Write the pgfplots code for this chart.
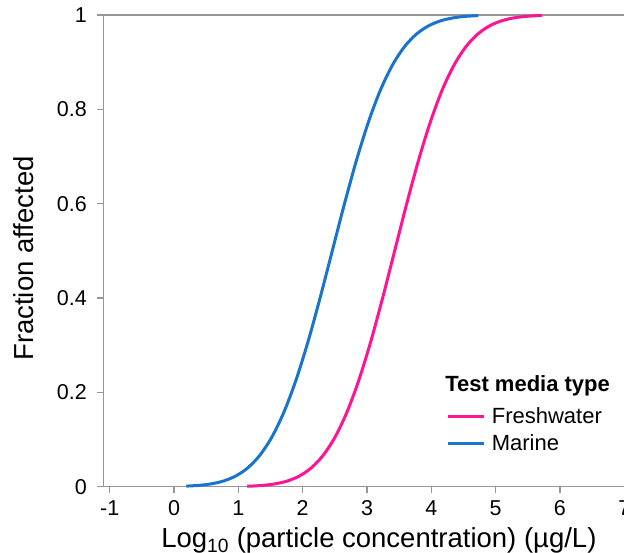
\documentclass[border=0pt]{standalone}
\usepackage{fontspec}
\setmainfont{Liberation Sans}
\usepackage{pgfplots}
\pgfplotsset{compat=1.18}
\definecolor{fresh}{RGB}{255,20,147}
\definecolor{marine}{RGB}{24,116,205}
\definecolor{axgray}{RGB}{150,150,150}
\begin{document}
\begin{tikzpicture}
\begin{axis}[
  scale only axis, width=521pt, height=471.7pt,
  xmin=-1.1, xmax=7, ymin=0, ymax=1,
  axis lines*=left,
  axis line style={axgray, line width=1.5pt},
  tick align=outside, major tick length=6pt,
  tick style={axgray, line width=1.5pt},
  xtick={-1,0,1,2,3,4,5,6,7},
  xticklabels={-1,0,1,2,3,4,5,6,7},
  ytick={0,0.2,0.4,0.6,0.8,1},
  yticklabels={0,0.2,0.4,0.6,0.8,1},
  extra y ticks={1}, extra y tick labels={},
  extra y tick style={grid=major, major grid style={axgray, line width=2pt}},
  ticklabel style={font=\fontsize{21.5}{25}\selectfont},
  yticklabel style={xshift=-7pt},
  xticklabel style={yshift=-4pt},
  clip=false,
  xlabel={Log\textsubscript{10} (particle concentration) (µg/L)},
  ylabel={Fraction affected},
  label style={font=\fontsize{27.5}{31}\selectfont},
  xlabel style={at={(axis description cs:0.529,0)}, anchor=base, yshift=-61.3pt, inner sep=0pt},
  ylabel style={at={(axis description cs:-0.1349,0.4838)}, anchor=base, inner sep=0pt},
  legend style={draw=none, fill=none, at={(axis description cs:0.659,0.1717)}, anchor=north west,
     font=\fontsize{22}{26}\selectfont, inner sep=0pt, row sep=5pt, nodes={inner sep=2pt},
     /tikz/every odd column/.append style={column sep=4pt}},
  legend cell align=left,
  legend image code/.code={\draw[#1, line width=3pt] (0pt,0pt) -- (36pt,0pt);},
]
\addplot[fresh, line width=3pt, smooth] coordinates {
(1.136,0.00097) (1.21,0.00135) (1.395,0.00298) (1.58,0.00621) (1.765,0.01222) (1.95,0.02275)
(2.135,0.04006) (2.32,0.06681) (2.505,0.10565) (2.69,0.15866) (2.875,0.22663)
(3.06,0.30854) (3.245,0.40129) (3.43,0.5) (3.615,0.59871) (3.8,0.69146)
(3.985,0.77337) (4.17,0.84134) (4.355,0.89435) (4.54,0.93319) (4.725,0.95994)
(4.91,0.97725) (5.095,0.98778) (5.28,0.99379) (5.465,0.99702) (5.65,0.99865) (5.724,0.99903)
};
\addlegendentry{Freshwater}
\addplot[marine, line width=3pt, smooth] coordinates {
(0.19,0.0012) (0.3975,0.00298) (0.585,0.00621) (0.7725,0.01222) (0.96,0.02275)
(1.1475,0.04006) (1.335,0.06681) (1.5225,0.10565) (1.71,0.15866) (1.8975,0.22663)
(2.085,0.30854) (2.2725,0.40129) (2.46,0.5) (2.6475,0.59871) (2.835,0.69146)
(3.0225,0.77337) (3.21,0.84134) (3.3975,0.89435) (3.585,0.93319) (3.7725,0.95994)
(3.96,0.97725) (4.1475,0.98778) (4.335,0.99379) (4.5225,0.99702) (4.73,0.99875)
};
\addlegendentry{Marine}
\node[anchor=base west, inner sep=0pt, font=\bfseries\fontsize{22}{26}\selectfont]
  at (axis description cs:0.656,0.2008) {Test media type};
\end{axis}
\pgfresetboundingbox
\useasboundingbox (-103.3pt,-66.3pt) rectangle (520.7pt,486.7pt);
\end{tikzpicture}
\end{document}
